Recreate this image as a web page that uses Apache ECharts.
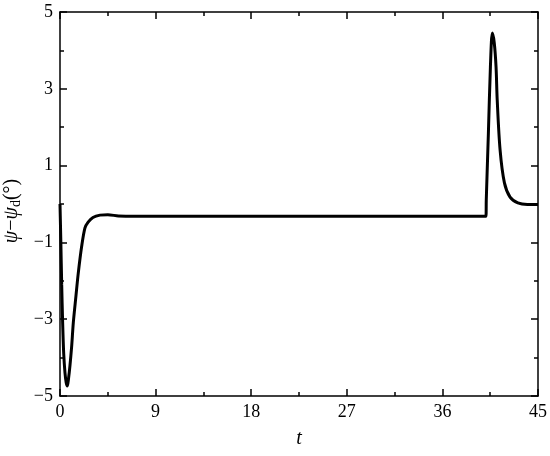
<!DOCTYPE html>
<html>
<head>
<meta charset="utf-8">
<script src="https://cdn.jsdelivr.net/npm/echarts@6/dist/echarts.min.js"></script>
<style>html,body{margin:0;padding:0;background:#fff}#c{width:550px;height:456px}</style>
</head>
<body>
<div id="c"></div>
<script>
var tValues = [0, 0.08, 0.16, 0.25, 0.35, 0.47, 0.58, 0.69, 0.8, 0.94, 1.1, 1.25, 1.5, 1.72, 2.04, 2.35, 2.65, 3.1, 3.77, 4.5, 5.5, 7, 40.1, 40.13, 40.33, 40.52, 40.7, 40.88, 41.05, 41.16, 41.43, 41.84, 42.37, 43.1, 44, 45];
var psiError = [0, -1.0, -2.1, -3.1, -3.9, -4.4, -4.65, -4.74, -4.55, -4.2, -3.7, -3.1, -2.4, -1.8, -1.1, -0.62, -0.47, -0.35, -0.29, -0.28, -0.31, -0.32, -0.32, 0.1, 1.85, 3.57, 4.45, 4.2, 3.57, 2.71, 1.41, 0.55, 0.18, 0.03, -0.01, -0.01];
var xTicks = [0, 9, 18, 27, 36, 45];
var yTicks = [-5, -3, -1, 1, 3, 5];

var font = '"Liberation Serif", "Times New Roman", Times, serif';
var data = tValues.map(function (t, i) { return [t, psiError[i]]; });
var chart = echarts.init(document.getElementById('c'), null, {renderer: 'canvas'});
var axisLineStyle = {color: '#000', width: 1.5};
function fmt(v) { return String(v).replace('-', '\u2212'); }
function baseAxis(extra) {
  return Object.assign({
    axisLine: {show: true, onZero: false, lineStyle: axisLineStyle},
    axisTick: {show: true, inside: true, length: 7, lineStyle: {color: '#000', width: 1.5}},
    minorTick: {show: true, splitNumber: 2, length: 4, lineStyle: {color: '#000', width: 1.5}},
    splitLine: {show: false},
    minorSplitLine: {show: false}
  }, extra);
}
chart.setOption({
  animation: false,
  grid: {left: 60, right: 12, top: 12, bottom: 60, containLabel: false, outerBoundsMode: 'none'},
  xAxis: [
    baseAxis({type: 'value', min: xTicks[0], max: xTicks[xTicks.length - 1], interval: 9, position: 'bottom',
      axisLabel: {color: '#000', fontFamily: font, fontSize: 18, margin: 7, formatter: fmt},
      name: 't', nameLocation: 'middle', nameGap: 33,
      nameTextStyle: {color: '#000', fontFamily: font, fontSize: 20, fontStyle: 'italic'}}),
    baseAxis({type: 'value', min: 0, max: 45, interval: 9, position: 'top', axisLabel: {show: false}})
  ],
  yAxis: [
    baseAxis({type: 'value', min: yTicks[0], max: yTicks[yTicks.length - 1], interval: 2, position: 'left',
      axisLabel: {color: '#000', fontFamily: font, fontSize: 18, margin: 7, formatter: fmt},
      name: '{i|ψ}{n|−}{i|ψ}{s|d}{n|(°)}', nameLocation: 'middle', nameGap: 35,
      nameTextStyle: {color: '#000', fontFamily: font, fontSize: 20, padding: [0, 14, 0, 0],
        rich: {
          i: {fontFamily: font, fontSize: 20, fontStyle: 'italic', color: '#000'},
          n: {fontFamily: font, fontSize: 20, color: '#000'},
          s: {fontFamily: font, fontSize: 14, color: '#000', verticalAlign: 'bottom', padding: [8, 0, 0, 0]}
        }}}),
    baseAxis({type: 'value', min: -5, max: 5, interval: 2, position: 'right', axisLabel: {show: false}})
  ],
  series: [{
    type: 'line',
    data: data,
    xAxisIndex: 0, yAxisIndex: 0,
    showSymbol: false,
    smooth: 0.3,
    lineStyle: {color: '#000', width: 3}
  }]
});
</script>
</body>
</html>
